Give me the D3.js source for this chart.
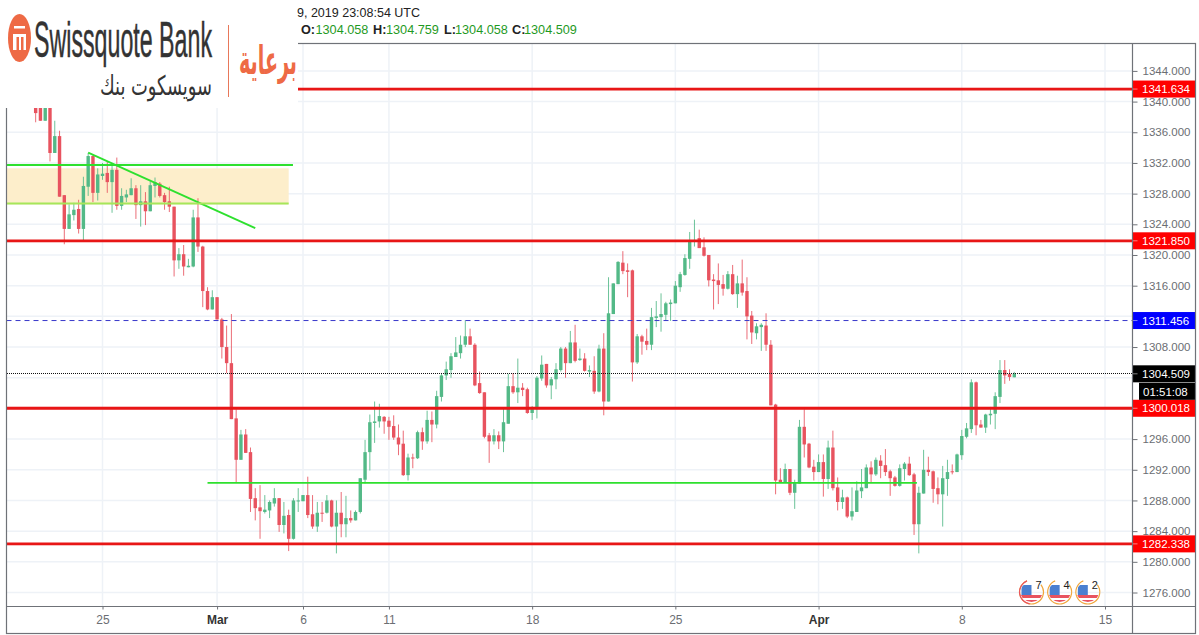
<!DOCTYPE html>
<html>
<head>
<meta charset="utf-8">
<script src="https://cdn.jsdelivr.net/npm/d3@7"></script>
<style>
  html, body { margin: 0; padding: 0; background: #fff; overflow: hidden; }
  text { font-family: "Liberation Sans", Arial, sans-serif; }
</style>
</head>
<body>
<svg id="chart" width="1199" height="635"></svg>
<script>
// 4h XAUUSD candles, oldest first
const opens = [
  1339.7,1339.7,1337.5,1339.7,1333.3,1335.5,1327.8,1323.4,1325.2,1326.0,
  1323.4,1328.9,1332.9,1328.1,1330.3,1330.7,1329.5,1331.1,1326.4,1327.5,
  1327.8,1328.7,1326.5,1327.0,1325.7,1329.0,1329.3,1327.8,1327.0,1326.3,
  1319.3,1320.1,1318.4,1318.5,1324.9,1321.1,1315.3,1312.9,1314.5,1311.6,
  1308.0,1305.9,1298.7,1293.3,1296.6,1294.3,1288.3,1287.1,1286.5,1286.7,
  1287.6,1288.3,1284.8,1286.1,1283.0,1287.9,1287.9,1288.7,1286.2,1284.6,
  1286.4,1286.4,1288.0,1284.6,1286.4,1284.9,1285.7,1285.4,1286.5,1290.7,
  1294.3,1298.1,1298.3,1298.9,1298.4,1297.7,1296.2,1295.4,1291.3,1293.6,
  1293.5,1296.9,1295.7,1298.5,1297.9,1301.5,1304.3,1305.0,1306.7,1307.2,
  1308.3,1309.4,1308.3,1303.3,1302.1,1296.5,1295.7,1296.5,1295.7,1298.0,
  1302.9,1302.1,1302.7,1302.5,1299.4,1299.9,1303.9,1305.8,1303.0,1303.8,
  1305.0,1307.8,1305.9,1308.6,1306.3,1306.5,1304.8,1304.9,1302.2,1307.8,
  1300.9,1312.3,1316.2,1319.0,1318.0,1318.0,1306.0,1309.4,1308.8,1308.3,
  1311.8,1311.9,1312.2,1313.6,1313.7,1315.8,1317.4,1319.5,1321.7,1322.2,
  1321.0,1320.0,1316.8,1316.7,1316.2,1315.6,1317.5,1314.9,1316.3,1315.3,
  1312.1,1309.8,1310.6,1310.8,1308.3,1300.5,1290.7,1290.3,1292.1,1289.0,
  1290.2,1297.6,1295.4,1292.4,1291.7,1293.0,1290.8,1294.9,1289.7,1287.8,
  1288.4,1285.9,1286.5,1289.2,1289.6,1292.3,1291.4,1293.2,1292.6,1291.8,
  1291.0,1289.9,1292.1,1292.8,1291.4,1284.9,1288.9,1292.0,1291.8,1289.6,
  1288.8,1290.8,1291.8,1291.7,1293.9,1296.3,1297.3,1303.4,1297.9,1297.5,
  1299.1,1299.3,1301.5,1305.0,1304.5,1304.058
]
const highs = [
  1340.2,1340.2,1340.2,1340.2,1337.5,1336.2,1327.8,1326.6,1326.8,1327.2,
  1330.2,1333.3,1333.0,1331.3,1332.0,1332.2,1332.0,1332.7,1328.7,1328.5,
  1330.0,1329.1,1329.1,1328.2,1329.6,1330.1,1329.5,1328.1,1328.9,1326.3,
  1320.9,1321.3,1319.5,1325.9,1327.4,1321.2,1315.8,1315.4,1314.5,1311.8,
  1310.8,1312.3,1299.9,1297.2,1297.3,1294.9,1289.6,1290.0,1288.7,1288.0,
  1289.6,1288.3,1287.8,1286.8,1288.3,1289.6,1288.7,1291.1,1288.7,1287.8,
  1287.8,1288.7,1288.1,1288.0,1289.1,1288.6,1286.7,1286.7,1290.9,1295.9,
  1299.2,1300.9,1300.6,1299.0,1298.9,1299.1,1297.9,1297.1,1294.1,1294.1,
  1297.1,1297.5,1299.7,1299.6,1302.3,1304.6,1306.1,1307.2,1309.3,1309.5,
  1311.5,1310.4,1308.5,1304.8,1302.1,1296.8,1297.3,1297.0,1300.1,1304.5,
  1304.6,1306.5,1303.3,1302.7,1300.3,1304.2,1306.9,1305.8,1304.1,1305.9,
  1308.0,1308.0,1310.1,1310.9,1307.8,1307.2,1305.6,1306.8,1308.3,1309.8,
  1317.1,1316.3,1319.2,1320.5,1318.9,1318.1,1309.7,1309.6,1310.4,1313.1,
  1314.0,1315.0,1313.9,1314.2,1316.6,1317.8,1320.1,1323.0,1324.6,1323.3,
  1322.3,1320.0,1317.5,1318.9,1317.4,1317.9,1318.7,1317.3,1319.4,1317.1,
  1312.7,1311.1,1311.1,1312.4,1308.9,1300.6,1292.2,1292.8,1292.1,1290.7,
  1298.5,1299.9,1295.5,1293.3,1294.0,1294.0,1295.8,1297.1,1291.0,1289.4,
  1288.5,1289.7,1290.5,1292.1,1292.7,1293.1,1293.6,1293.9,1294.7,1292.0,
  1291.2,1292.7,1293.0,1293.7,1291.6,1289.8,1294.6,1293.7,1291.9,1291.0,
  1292.5,1293.3,1292.7,1294.1,1297.2,1298.1,1303.8,1303.5,1298.5,1299.3,
  1300.2,1302.1,1306.3,1306.3,1305.1,1304.759
]
const lows = [
  1337.3,1337.5,1337.5,1332.2,1333.3,1327.6,1321.4,1323.4,1324.5,1322.8,
  1321.8,1327.7,1326.9,1327.1,1329.8,1328.1,1325.5,1325.9,1325.9,1326.9,
  1327.8,1324.7,1323.7,1323.9,1325.7,1327.5,1327.5,1325.9,1325.6,1317.2,
  1318.2,1317.3,1318.4,1318.4,1320.4,1313.2,1312.8,1312.9,1311.6,1306.5,
  1304.6,1298.6,1290.3,1293.3,1294.2,1286.5,1285.4,1283.0,1286.3,1285.7,
  1287.2,1283.9,1283.7,1281.4,1282.9,1286.5,1287.9,1285.7,1284.3,1283.9,
  1285.2,1286.3,1284.5,1281.1,1283.2,1283.2,1285.1,1285.4,1286.3,1290.2,
  1291.9,1295.5,1297.5,1296.7,1295.9,1295.9,1293.9,1291.2,1290.6,1292.2,
  1293.4,1294.6,1295.4,1295.6,1297.4,1300.9,1303.7,1304.0,1306.7,1306.5,
  1308.0,1308.3,1302.9,1301.9,1296.1,1292.9,1295.3,1294.7,1294.3,1298.0,
  1301.9,1300.7,1301.6,1299.3,1298.5,1298.7,1303.6,1302.7,1301.2,1302.5,
  1304.8,1304.0,1305.9,1306.0,1306.2,1304.8,1304.1,1301.9,1302.1,1299.1,
  1300.9,1312.3,1316.2,1317.5,1314.5,1303.5,1305.8,1307.0,1307.6,1307.6,
  1310.6,1310.0,1311.4,1311.4,1313.7,1315.2,1317.3,1318.2,1321.1,1320.9,
  1319.8,1315.9,1312.9,1313.6,1314.7,1315.5,1314.8,1313.1,1314.7,1309.0,
  1308.4,1309.0,1307.5,1307.5,1300.4,1288.8,1290.3,1290.3,1288.7,1286.9,
  1290.2,1293.6,1292.2,1290.6,1291.7,1288.5,1289.5,1289.3,1286.7,1286.9,
  1285.7,1285.4,1286.5,1288.3,1289.6,1290.3,1291.2,1290.9,1291.2,1288.6,
  1289.8,1289.8,1290.6,1291.2,1283.5,1281.1,1288.9,1291.2,1287.7,1287.5,
  1284.6,1288.6,1291.4,1291.7,1293.3,1296.1,1296.8,1296.5,1297.5,1296.8,
  1297.9,1297.3,1300.7,1303.2,1303.6,1304.058
]
const closes = [
  1338.5,1337.5,1340.2,1333.3,1335.5,1327.6,1323.4,1325.3,1325.9,1323.4,
  1329.0,1332.9,1328.1,1330.5,1330.6,1329.5,1331.1,1326.4,1327.7,1327.9,
  1328.7,1326.5,1327.0,1325.7,1329.1,1329.5,1327.7,1326.9,1326.3,1319.3,
  1320.1,1318.5,1318.6,1324.9,1321.1,1315.3,1312.9,1314.5,1311.6,1308.0,
  1305.9,1298.6,1293.3,1296.6,1294.2,1288.2,1287.0,1286.6,1286.8,1287.8,
  1288.3,1284.8,1286.0,1283.0,1288.0,1288.0,1288.7,1286.1,1284.6,1286.4,
  1286.3,1288.0,1284.6,1286.4,1284.9,1285.7,1285.4,1286.5,1290.9,1294.3,
  1298.2,1298.3,1299.0,1298.3,1297.6,1296.2,1295.3,1291.3,1293.6,1293.5,
  1296.9,1295.7,1298.5,1297.9,1301.6,1304.3,1305.1,1306.8,1307.3,1308.3,
  1309.4,1308.3,1303.0,1302.0,1296.3,1295.7,1296.5,1295.7,1298.2,1302.9,
  1302.1,1302.7,1302.4,1299.4,1299.9,1304.0,1305.7,1303.0,1303.8,1305.1,
  1307.8,1305.9,1308.6,1306.2,1306.5,1304.9,1305.0,1302.2,1307.8,1300.9,
  1312.4,1316.3,1319.1,1317.9,1317.8,1306.0,1309.4,1308.7,1308.3,1311.9,
  1312.0,1312.3,1313.7,1313.8,1316.0,1317.5,1319.6,1321.7,1321.9,1320.9,
  1319.9,1316.7,1316.6,1316.1,1315.6,1317.5,1314.9,1316.3,1315.1,1312.0,
  1309.9,1310.7,1310.9,1308.3,1300.4,1290.6,1290.3,1292.1,1289.0,1290.3,
  1297.6,1295.3,1292.3,1291.7,1293.0,1290.8,1294.9,1289.6,1287.8,1288.4,
  1285.9,1286.6,1289.3,1289.7,1292.3,1291.4,1293.3,1292.5,1291.7,1290.9,
  1289.9,1292.2,1292.8,1291.3,1284.9,1289.0,1292.0,1291.7,1289.5,1288.8,
  1290.9,1291.7,1291.7,1294.0,1296.4,1297.4,1303.4,1297.8,1297.5,1299.2,
  1299.3,1301.6,1305.0,1304.3,1304.1,1304.509
]

const priceTicks = d3.range(1276, 1345, 4)
const timeIdx = [14, 38, 56, 74, 104, 134, 164, 194, 224]
const timeLabels = ["25", "Mar", "6", "11", "18", "25", "Apr", "8", "15"]
const redLevels = [1341.634, 1321.850, 1300.018, 1282.338]
const blueLevel = 1311.456
const lastPrice = 1304.509
const countdown = "01:51:08"
const supportLine = { from: 36, to: 184.6, price: 1290.3 }
const trendLine = { from: 11, to: 46, p0: 1333.35, p1: 1323.5 }
const zone = { from: -6, to: 53, lineTo: 53.9, top: 1331.72, fillTop: 1331.3, fillBottom: 1326.6, bottom: 1326.7 }
const ohlcLabels = ["O:", "H:", "L:", "C:"]
const ohlcValues = ["1304.058", "1304.759", "1304.058", "1304.509"]
const eventIdx = [208.6, 214.5, 220.4]
const eventCounts = [7, 4, 2]

const UP = "#53b987", DOWN = "#e8535f", FRAME = "#6f7278", AXIS_TEXT = "#6b6e73"
const plotL = 6.5, plotR = 1132.5, plotT = 43.5, plotB = 606.5

const svg = d3.select("#chart")
const x = d3.scaleLinear().domain([14, 224]).range([102.5, 1105])
const y = d3.scaleLinear().domain([1276, 1344]).range([592.5, 70.9])
const candles = opens.map((o, i) => ({ i, o, h: highs[i], l: lows[i], c: closes[i] }))

const defs = svg.append("defs")
defs.append("clipPath").attr("id", "plot")
  .append("rect").attr("x", plotL).attr("y", plotT).attr("width", plotR - plotL).attr("height", plotB - plotT)
defs.append("clipPath").attr("id", "globe")
  .append("ellipse").attr("rx", 11).attr("ry", 10)
// the source is a soft screenshot
defs.append("filter").attr("id", "soft").attr("x", "-2%").attr("y", "-2%").attr("width", "104%").attr("height", "104%")
  .append("feGaussianBlur").attr("stdDeviation", 0.35)

// grid
const grid = svg.append("g").attr("stroke", "#eef2f7").attr("stroke-width", 1.5)
grid.selectAll("line.h").data(priceTicks).join("line").attr("class", "h")
  .attr("x1", plotL).attr("x2", plotR).attr("y1", d => y(d)).attr("y2", d => y(d))
grid.selectAll("line.v").data(timeIdx).join("line").attr("class", "v")
  .attr("x1", d => x(d)).attr("x2", d => x(d)).attr("y1", plotT).attr("y2", plotB)

const plot = svg.append("g").attr("clip-path", "url(#plot)").append("g").attr("filter", "url(#soft)")

// zone behind the candles
plot.append("rect")
  .attr("x", x(zone.from)).attr("width", x(zone.to) - x(zone.from))
  .attr("y", y(zone.fillTop)).attr("height", y(zone.fillBottom) - y(zone.fillTop))
  .attr("fill", "#fdeecb")

// candles
const marks = plot.append("g").selectAll("g").data(candles).join("g")
  .attr("fill", d => d.c >= d.o ? UP : DOWN)
  .attr("stroke", d => d.c >= d.o ? UP : DOWN)
marks.append("line")
  .attr("x1", d => x(d.i)).attr("x2", d => x(d.i))
  .attr("y1", d => y(d.h)).attr("y2", d => y(d.l))
  .attr("stroke-width", 1).attr("stroke-opacity", 0.85)
marks.append("rect")
  .attr("x", d => x(d.i) - 1.7).attr("width", 3.4)
  .attr("y", d => y(Math.max(d.o, d.c)))
  .attr("height", d => Math.max(1, Math.abs(y(d.o) - y(d.c))))
  .attr("stroke", "none")

// drawn levels
plot.selectAll("line.red").data(redLevels).join("line").attr("class", "red")
  .attr("x1", plotL).attr("x2", plotR).attr("y1", d => y(d)).attr("y2", d => y(d))
  .attr("stroke", "#e81414").attr("stroke-width", 2.8)
plot.append("line").attr("x1", plotL).attr("x2", plotR).attr("y1", y(blueLevel)).attr("y2", y(blueLevel))
  .attr("stroke", "#3a3acb").attr("stroke-width", 1).attr("stroke-dasharray", "5 4")
// whole pixel start, otherwise the dots smear into a grey line
const lastY = Math.floor(y(lastPrice)) + 0.5
svg.append("line").attr("x1", 7).attr("x2", plotR).attr("y1", lastY).attr("y2", lastY)
  .attr("stroke", "#111").attr("stroke-width", 1).attr("stroke-dasharray", "1 1")
plot.append("line").attr("x1", x(supportLine.from)).attr("x2", x(supportLine.to))
  .attr("y1", y(supportLine.price)).attr("y2", y(supportLine.price))
  .attr("stroke", "#2ee02e").attr("stroke-width", 1.8)
plot.append("line").attr("x1", x(trendLine.from)).attr("x2", x(trendLine.to))
  .attr("y1", y(trendLine.p0)).attr("y2", y(trendLine.p1))
  .attr("stroke", "#2ee02e").attr("stroke-width", 1.8)
plot.append("line").attr("x1", x(zone.from)).attr("x2", x(zone.lineTo))
  .attr("y1", y(zone.top)).attr("y2", y(zone.top))
  .attr("stroke", "#2ee02e").attr("stroke-width", 2)
plot.append("line").attr("x1", x(zone.from)).attr("x2", x(zone.to))
  .attr("y1", y(zone.bottom)).attr("y2", y(zone.bottom))
  .attr("stroke", "#a6e65a").attr("stroke-width", 2)

// economic calendar events
const arc = d3.arc().innerRadius(11.4).outerRadius(12.6)
const ev = svg.append("g").selectAll("g").data(eventIdx).join("g")
  .attr("transform", d => `translate(${x(d)},592)`)
ev.append("path").attr("d", arc({ startAngle: 0.9, endAngle: 5.9 })).attr("fill", "#f0a63c")
ev.filter((d, i) => i === 0).append("path").attr("d", arc({ startAngle: 3.3, endAngle: 5.9 })).attr("fill", "#e8535f")
const globe = ev.append("g").attr("clip-path", "url(#globe)")
globe.append("rect").attr("x", -11).attr("y", 3).attr("width", 22).attr("height", 3).attr("fill", "#e8535f")
globe.append("rect").attr("x", -11).attr("y", 6).attr("width", 22).attr("height", 2).attr("fill", "#fff")
globe.append("rect").attr("x", -11).attr("y", 8).attr("width", 22).attr("height", 2).attr("fill", "#e8535f")
globe.append("rect").attr("x", -10).attr("y", -7).attr("width", 10).attr("height", 10).attr("fill", "#4a7fd0")
ev.append("text").attr("x", 7).attr("y", -3).attr("text-anchor", "middle")
  .attr("font-size", 11).attr("fill", "#222").text((d, i) => eventCounts[i])

// axes, labels under a price tag are not shown
const tagValues = [...redLevels, blueLevel, lastPrice]
const underTag = v => tagValues.some(t => Math.abs(t - v) < 0.8)
const priceAxis = svg.append("g").attr("transform", `translate(${plotR},0)`)
  .call(d3.axisRight(y).tickValues(priceTicks).tickSize(5).tickPadding(5).tickFormat(d3.format(".3f")))
priceAxis.select(".domain").remove()
priceAxis.selectAll(".tick").filter(underTag).remove()
priceAxis.selectAll("line").attr("stroke", FRAME)
priceAxis.selectAll("text").attr("font-size", 11.5).attr("fill", AXIS_TEXT)
  .style("font-family", '"Liberation Sans", Arial, sans-serif')

const timeAxis = svg.append("g").attr("transform", `translate(0,${plotB})`)
  .call(d3.axisBottom(x).tickValues(timeIdx).tickSize(3).tickPadding(6).tickFormat((d, i) => timeLabels[i]))
timeAxis.select(".domain").remove()
timeAxis.selectAll("line").attr("stroke", FRAME)
timeAxis.selectAll("text").attr("font-size", 12)
  .style("font-family", '"Liberation Sans", Arial, sans-serif')
  .attr("fill", (d, i) => isNaN(+timeLabels[i]) ? "#333" : AXIS_TEXT)
  .attr("font-weight", (d, i) => isNaN(+timeLabels[i]) ? "bold" : "normal")

// price tags on the scale
const tags = [
  ...redLevels.map(v => ({ v, fill: "#ff0000" })),
  { v: blueLevel, fill: "#0000ff" },
  { v: lastPrice, fill: "#000" }
]
const tag = svg.append("g").selectAll("g").data(tags).join("g")
  .attr("transform", d => `translate(${plotR},${y(d.v)})`)
tag.append("rect").attr("y", -8.5).attr("width", 62.5).attr("height", 17).attr("fill", d => d.fill)
tag.append("line").attr("x1", 0).attr("x2", 5).attr("stroke", "#fff").attr("stroke-opacity", 0.5)
tag.append("text").attr("x", 9.5).attr("y", 4).attr("font-size", 11.5).attr("fill", "#fff").text(d => d.v.toFixed(3))
svg.append("rect").attr("x", 1139).attr("y", y(lastPrice) + 9).attr("width", 56).attr("height", 17).attr("fill", "#000")
svg.append("text").attr("x", 1143).attr("y", y(lastPrice) + 22).attr("font-size", 11.5).attr("fill", "#fff").text(countdown)

// frame
svg.append("rect").attr("x", plotL).attr("y", plotT).attr("width", 1195.5 - plotL).attr("height", 633.5 - plotT)
  .attr("fill", "none").attr("stroke", FRAME).attr("stroke-width", 1.2)
svg.append("line").attr("x1", plotR).attr("x2", plotR).attr("y1", plotT).attr("y2", 633.5)
  .attr("stroke", FRAME).attr("stroke-width", 1.2)
svg.append("line").attr("x1", plotL).attr("x2", 1195.5).attr("y1", plotB).attr("y2", plotB)
  .attr("stroke", FRAME).attr("stroke-width", 1.2)

// sponsor logo sits on top of the chart
const logo = svg.append("g")
logo.append("rect").attr("width", 298).attr("height", 108).attr("fill", "#fff")
logo.append("ellipse").attr("cx", 19.5).attr("cy", 38).attr("rx", 11.5).attr("ry", 24).attr("fill", "#ee6a45")
logo.append("rect").attr("x", 14).attr("y", 26).attr("width", 11).attr("height", 2.5).attr("fill", "#fff")
logo.append("path").attr("d", "M13 34h13v16h-2.5v-13h-2.5v13h-2v-13h-2.5v13h-3.5z").attr("fill", "#fff")
logo.append("text").attr("x", 34).attr("y", 57).attr("font-size", 50).attr("fill", "#333")
  .attr("stroke", "#333").attr("stroke-width", 0.5)
  .attr("textLength", 178).attr("lengthAdjust", "spacingAndGlyphs").text("Swissquote Bank")
logo.append("text").attr("x", 212).attr("y", 95).attr("text-anchor", "start").attr("direction", "rtl")
  .style("font-family", '"DejaVu Sans"').attr("font-size", 27).attr("fill", "#333")
  .attr("textLength", 112).attr("lengthAdjust", "spacingAndGlyphs").text("سويسكوت بنك")
logo.append("line").attr("x1", 228.5).attr("x2", 228.5).attr("y1", 25).attr("y2", 97)
  .attr("stroke", "#e8785a").attr("stroke-width", 1)
logo.append("text").attr("x", 297).attr("y", 74).attr("text-anchor", "start").attr("direction", "rtl")
  .style("font-family", '"DejaVu Sans"').attr("font-weight", "bold").attr("font-size", 40).attr("fill", "#ee6a45")
  .attr("textLength", 58).attr("lengthAdjust", "spacingAndGlyphs").text("برعاية")

// header text
svg.append("text").attr("x", 297).attr("y", 17).attr("font-size", 12.5).attr("fill", "#222").text("9, 2019 23:08:54 UTC")
const ohlcLabelX = [301, 373, 444, 512]
const ohlcValueX = [315.5, 386, 455, 524]
const ohlc = svg.append("g").attr("font-size", 12.7)
ohlc.selectAll("text.lab").data(ohlcLabels).join("text").attr("class", "lab")
  .attr("x", (d, i) => ohlcLabelX[i]).attr("y", 34).attr("font-weight", "bold").attr("fill", "#222").text(d => d)
ohlc.selectAll("text.val").data(ohlcValues).join("text").attr("class", "val")
  .attr("x", (d, i) => ohlcValueX[i]).attr("y", 34).attr("fill", "#1f9a1f").text(d => d)
</script>
</body>
</html>
